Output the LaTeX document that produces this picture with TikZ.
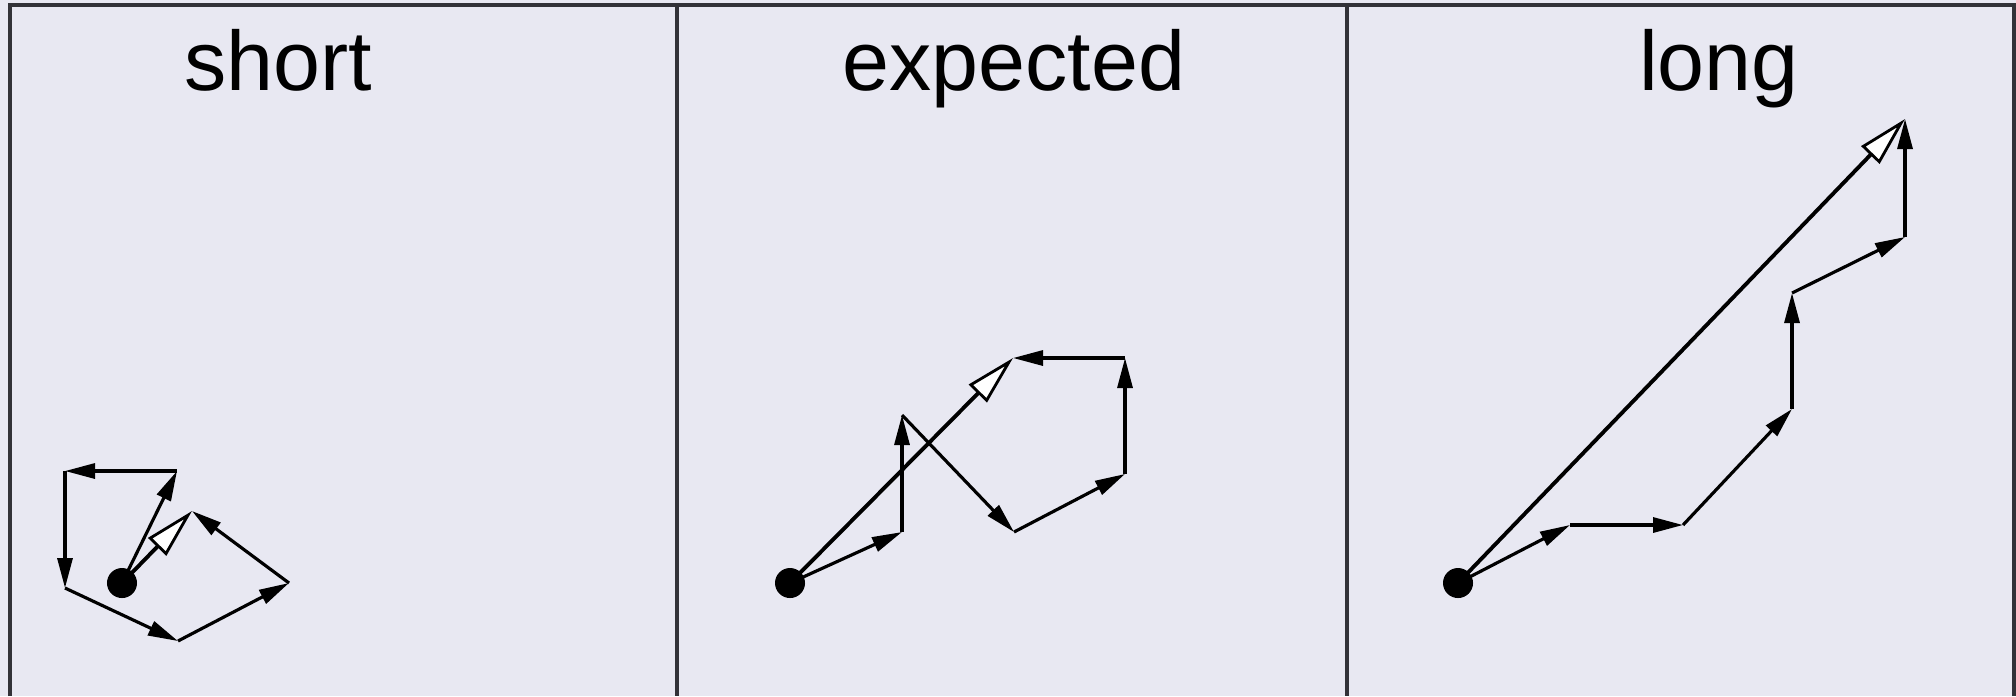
\documentclass[tikz,border=0pt]{standalone}
\usepackage{fontspec}
\setmainfont{Liberation Sans}
\usetikzlibrary{arrows.meta}
\definecolor{panelbg}{RGB}{232, 232, 242}
\definecolor{framegray}{RGB}{50, 50, 56}

\tikzset{
  walkstep/.style={-{Triangle[length=0.3cm, width=0.15cm]}, line width=0.9pt},
  resultant/.style={-{Triangle[length=0.5cm, width=0.25cm, fill=white, line width=0.8pt]}, line width=1.1pt},
  paneltitle/.style={font=\fontsize{24}{28}\selectfont, anchor=base}
}

\begin{document}
\begin{tikzpicture}[x=0.01cm, y=-0.01cm]

  \useasboundingbox (0, 0) rectangle (2016, 696);
  \fill[panelbg] (0, 0) rectangle (2016, 696);

  % frame and dividers
  \draw[framegray, line width=1pt] (10, 696) -- (10, 5) -- (2014, 5) -- (2014, 696);
  \draw[framegray, line width=1pt] (677, 5) -- (677, 696);
  \draw[framegray, line width=1pt] (1347, 5) -- (1347, 696);

  \node[paneltitle] (tshort) at (278, 90) {short};
  \node[paneltitle] (texpected) at (1014, 90) {expected};
  \node[paneltitle] (tlong) at (1719, 90) {long};

  % short walk
  \coordinate (s0) at (122, 583);
  \coordinate (s1) at (177, 471);
  \coordinate (s2) at (65, 471);
  \coordinate (s3) at (65, 588);
  \coordinate (s4) at (178, 641);
  \coordinate (s5) at (289, 583);
  \coordinate (s6) at (192, 511);

  % expected walk
  \coordinate (e0) at (790, 583);
  \coordinate (e1) at (902, 532);
  \coordinate (e2) at (902, 415);
  \coordinate (e3) at (1014, 532);
  \coordinate (e4) at (1125, 474);
  \coordinate (e5) at (1125, 358);
  \coordinate (e6) at (1013, 358);

  % long walk
  \coordinate (l0) at (1458, 583);
  \coordinate (l1) at (1570, 525);
  \coordinate (l2) at (1683, 525);
  \coordinate (l3) at (1792, 409);
  \coordinate (l4) at (1792, 293);
  \coordinate (l5) at (1905, 237);
  \coordinate (l6) at (1905, 119);

  \foreach \w in {s, e, l} {
    \foreach \i [evaluate=\i as \j using int(\i+1)] in {0, ..., 5} {
      \draw[walkstep] (\w\i) -- (\w\j);
    }
    \draw[resultant] (\w0) -- (\w6);
    \fill (\w0) circle (0.15cm);
  }

\end{tikzpicture}
\end{document}
